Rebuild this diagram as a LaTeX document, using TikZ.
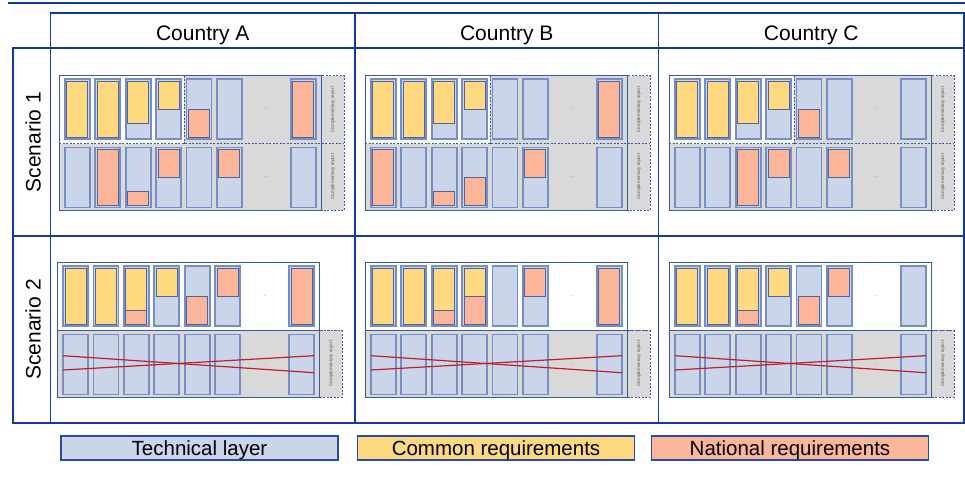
\documentclass[tikz,border=0pt]{standalone}
\usepackage{fontspec}
\setmainfont{Liberation Sans}
\definecolor{tblue}{RGB}{18,58,158}
\definecolor{fblue}{RGB}{58,88,170}
\definecolor{barline}{RGB}{118,142,200}
\definecolor{segline}{RGB}{80,100,160}
\definecolor{lb}{RGB}{202,213,234}
\definecolor{cy}{RGB}{255,217,127}
\definecolor{cs}{RGB}{251,181,152}
\definecolor{gr}{RGB}{217,217,217}
\definecolor{xred}{RGB}{192,30,40}
\definecolor{legline}{RGB}{40,75,165}
\tikzset{
 tline/.style={draw=tblue,line width=1.8pt},
 barst/.style={fill=lb,draw=barline,line width=1.8pt},
 segst/.style={draw=segline,line width=0.9pt},
 frm/.style={draw=fblue,line width=0.9pt},
 dsh/.style={draw=fblue,line width=0.9pt,dash pattern=on 2pt off 1.5pt},
 comp/.style={font=\fontsize{4.6}{5}\selectfont,text=black!65,rotate=90,inner sep=0pt},
 dotst/.style={font=\fontsize{5}{6}\selectfont,text=black!45,inner sep=0pt},
 big/.style={font=\fontsize{21}{24}\selectfont,inner sep=0pt,anchor=base},
 leg/.style={draw=legline,line width=1.4pt,minimum width=277pt,minimum height=24pt,inner sep=0pt,text height=14.7pt,text depth=0pt,font=\fontsize{20.5}{24}\selectfont},
 xline/.style={draw=xred,line width=1.2pt}
}
\newcommand\barrow[2]{%
 \foreach \k in {1,...,7}{%
  \pgfmathsetmacro\cx{#1+(\k<7 ? 5.5+30.4*(\k-1) : 231.5)}%
  \draw[barst] (\cx,#2) rectangle ++(25,60);}%
 \node[dotst] at (#1+207,#2+30) {...};}
\newcommand\segrow[3]{%
 \foreach \sk/\sc/\sa/\sb in {#3}{%
  \pgfmathsetmacro\cx{#1+(\sk<7 ? 5.5+30.4*(\sk-1) : 231.5)}%
  \draw[segst,fill=\sc] (\cx+2,#2+\sa) rectangle (\cx+23,#2+\sb);}}
\newcommand\scone[5]{%
 \fill[gr] (#1,#2) rectangle ++(262.4,134.5);
 \fill[white] (#1,#2) rectangle ++(125,68);
 \draw[dsh,fill=gr] (#1+262.4,#2) rectangle ++(22.5,134.5);
 \draw[dsh] (#1+125,#2) -- ++(0,68);
 \draw[dsh] (#1,#2+68) -- ++(284.9,0);
 \draw[frm] (#1,#2) rectangle ++(262.4,134.5);
 \barrow{#1}{#2+3.5}
 \barrow{#1}{#2+72}
 \segrow{#1}{#2+3.5}{#3}
 \segrow{#1}{#2+72}{#4}
 \node[comp] (#5r1) at (#1+273.6,#2+34) {Complementary report};
 \node[comp] (#5r2) at (#1+273.6,#2+101) {Complementary report};
}
\newcommand\sctwo[4]{%
 \draw[frm,fill=white] (#1,#2) rectangle ++(262.4,68);
 \draw[frm,fill=gr] (#1,#2+68) rectangle ++(262.4,66.5);
 \draw[dsh,fill=gr] (#1+262.4,#2+68) rectangle ++(22.5,66.5);
 \draw[dsh] (#1,#2+68) -- ++(284.9,0);
 \barrow{#1}{#2+3.5}
 \barrow{#1}{#2+72}
 \segrow{#1}{#2+3.5}{#3}
 \coordinate (#4a) at (#1+5.5,#2+93.2);
 \coordinate (#4b) at (#1+256.5,#2+110.2);
 \coordinate (#4c) at (#1+5.5,#2+107.5);
 \coordinate (#4d) at (#1+256.5,#2+93.2);
 \draw[xline] (#4a) -- (#4b);
 \draw[xline] (#4c) -- (#4d);
 \node[comp] (#4r) at (#1+273.6,#2+101) {Complementary report};
}
\begin{document}
\begin{tikzpicture}[x=1pt,y=-1pt]
\useasboundingbox (0,0) rectangle (965,483);
% table
\draw[tline] (8,3) -- (965,3);
\draw[tline] (50.5,13.3) rectangle (964,48.3);
\draw[tline] (12.7,48.3) rectangle (964,423);
\draw[tline] (50.5,48.3) -- (50.5,423);
\draw[tline] (355,13.3) -- (355,423);
\draw[tline] (658.5,13.3) -- (658.5,423);
\draw[tline] (12.7,235.7) -- (964,235.7);
\node[big] (hA) at (202.75,40) {Country A};
\node[big] (hB) at (506.75,40) {Country B};
\node[big] (hC) at (811.25,40) {Country C};
\node[big,rotate=90] (s1) at (40.5,142) {Scenario 1};
\node[big,rotate=90] (s2) at (40.5,329.4) {Scenario 2};
% scenario 1
\scone{59.3}{75.5}{1/cy/2/58,2/cy/2/58,3/cy/2/44.5,4/cy/2/30,5/cs/30/58,7/cs/2/58}{2/cs/2/58,3/cs/44/58,4/cs/2/30,6/cs/2/30}{pa}
\scone{365.3}{75.5}{1/cy/2/58,2/cy/2/58,3/cy/2/44.5,4/cy/2/30,7/cs/2/58}{1/cs/2/58,3/cs/44/58,4/cs/30/58,6/cs/2/30}{pb}
\scone{669.3}{75.5}{1/cy/2/58,2/cy/2/58,3/cy/2/44.5,4/cy/2/30,5/cs/30/58}{3/cs/2/58,4/cs/2/30,6/cs/2/30}{pc}
% scenario 2
\sctwo{57.5}{262.5}{1/cy/2/58,2/cy/2/58,3/cy/2/44.5,3/cs/44.5/58,4/cy/2/30,5/cs/30/58,6/cs/2/30,7/cs/2/58}{qa}
\sctwo{365.3}{262.5}{1/cy/2/58,2/cy/2/58,3/cy/2/44.5,3/cs/44.5/58,4/cy/2/30,4/cs/30/58,6/cs/2/30,7/cs/2/58}{qb}
\sctwo{669.3}{262.5}{1/cy/2/58,2/cy/2/58,3/cy/2/44.5,3/cs/44.5/58,4/cy/2/30,5/cs/30/58,6/cs/2/30}{qc}
% legend
\node[leg,fill=lb] (lt) at (199.5,448) {Technical layer};
\node[leg,fill=cy] (lc) at (496,448) {Common requirements};
\node[leg,fill=cs] (ln) at (790,448) {National requirements};
\end{tikzpicture}
\end{document}
